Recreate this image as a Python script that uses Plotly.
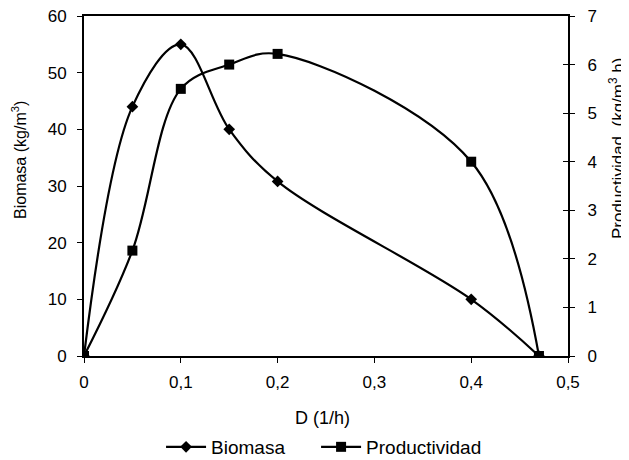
import plotly.graph_objects as go

D = [0, 0.05, 0.1, 0.15, 0.2, 0.4, 0.47]
biomasa = [0, 44, 55, 40, 30.8, 10, 0]
productividad = [0, 2.17, 5.5, 6.0, 6.22, 4.0, 0]

x_ticks = [0, 0.1, 0.2, 0.3, 0.4, 0.5]
x_ticktext = ["0", "0,1", "0,2", "0,3", "0,4", "0,5"]
y1_ticks = [0, 10, 20, 30, 40, 50, 60]
y2_ticks = [0, 1, 2, 3, 4, 5, 6, 7]

FONT = "Liberation Sans, Arial, sans-serif"

fig = go.Figure()
fig.add_trace(go.Scatter(
    x=D, y=biomasa, name="Biomasa", mode="lines+markers",
    line=dict(color="black", width=2.2, shape="spline", smoothing=1),
    marker=dict(symbol="diamond", size=9, color="black"),
    yaxis="y", legend="legend"))
fig.add_trace(go.Scatter(
    x=D, y=productividad, name="Productividad", mode="lines+markers",
    line=dict(color="black", width=2.2, shape="spline", smoothing=1),
    marker=dict(symbol="square", size=10, color="black"),
    yaxis="y2", legend="legend2"))
# invisible trace to activate the inside-tick right axis
fig.add_trace(go.Scatter(x=[None], y=[None], yaxis="y3", showlegend=False, hoverinfo="skip"))

axis_common = dict(showgrid=False, zeroline=False, showline=True, linecolor="black",
                   linewidth=2, ticks="outside", ticklen=5, tickcolor="black", tickwidth=1,
                   automargin=False, ticklabeloverflow="allow",
                   tickfont=dict(size=17, color="black", family=FONT))

leg_common = dict(orientation="h", y=-0.2676, yanchor="middle", xanchor="left",
                  font=dict(size=19, family=FONT, color="black"), itemwidth=40,
                  bgcolor="rgba(0,0,0,0)", borderwidth=0)

fig.update_layout(
    width=621, height=452,
    margin=dict(l=76, r=61, t=8, b=104, autoexpand=False),
    paper_bgcolor="white", plot_bgcolor="white",
    font=dict(family=FONT, color="black", size=17),
    showlegend=True,
    legend=dict(x=0.1632 - 0.004, **leg_common),
    legend2=dict(x=0.4835 - 0.004, **leg_common),
    xaxis=dict(range=[0, 0.5], tickvals=x_ticks, ticktext=x_ticktext, mirror=True,
               ticklabelstandoff=5, **axis_common),
    yaxis=dict(range=[0, 60], tickvals=y1_ticks, ticklabelstandoff=7, **axis_common),
    yaxis2=dict(range=[0, 7], tickvals=y2_ticks, overlaying="y", side="right",
                ticklabelstandoff=9, **axis_common),
    yaxis3=dict(range=[0, 7], tickvals=y2_ticks, overlaying="y", side="right",
                showgrid=False, zeroline=False, showline=False, showticklabels=False,
                ticks="inside", ticklen=5, tickcolor="black", tickwidth=1, automargin=False),
    annotations=[
        dict(text="D (1/h)", xref="paper", yref="paper", x=0.4938, y=-0.1824,
             xanchor="center", yanchor="middle", showarrow=False,
             font=dict(size=18, family=FONT, color="black")),
        dict(text="Biomasa (kg/m<sup>3</sup>)", xref="paper", yref="paper", x=-0.1343, y=0.5765,
             xanchor="center", yanchor="middle", showarrow=False, textangle=-90,
             font=dict(size=16, family=FONT, color="black")),
        dict(text="Productividad  (kg/m<sup>3</sup>.h)", xref="paper", yref="paper", x=1.1012, y=0.6118,
             xanchor="center", yanchor="middle", showarrow=False, textangle=-90,
             font=dict(size=17, family=FONT, color="black")),
    ],
)

fig.write_html("out.html")
